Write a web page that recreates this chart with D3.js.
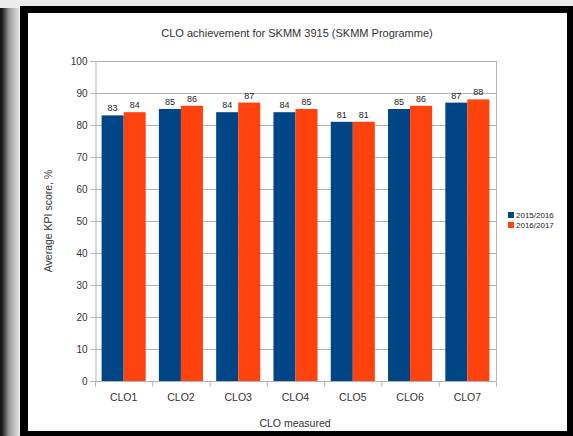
<!DOCTYPE html>
<html>
<head>
<meta charset="utf-8">
<script src="https://cdn.jsdelivr.net/npm/d3@7"></script>
<style>
  html, body { margin: 0; padding: 0; background: #ececec; }
  svg { display: block; }
  text { font-family: "Liberation Sans", "DejaVu Sans", sans-serif; }
</style>
</head>
<body>
<svg id="chart" width="573" height="436"></svg>
<script>
// Chart data
const categories = ["CLO1", "CLO2", "CLO3", "CLO4", "CLO5", "CLO6", "CLO7"];
const seriesNames = ["2015/2016", "2016/2017"];
const values2015 = [83, 85, 84, 84, 81, 85, 87];
const values2016 = [84, 86, 87, 85, 81, 86, 88];
const yTicks = [0, 10, 20, 30, 40, 50, 60, 70, 80, 90, 100];
const colors = ["#004586", "#ff420e"];

const svg = d3.select("#chart");

// Page backdrop: dark shaded strip on the left, black frame around the chart
const defs = svg.append("defs");
const grad = defs.append("linearGradient").attr("id", "edge").attr("x1", 0).attr("x2", 1);
grad.append("stop").attr("offset", "0").attr("stop-color", "#111");
grad.append("stop").attr("offset", "0.12").attr("stop-color", "#222");
grad.append("stop").attr("offset", "0.45").attr("stop-color", "#999");
grad.append("stop").attr("offset", "1").attr("stop-color", "#eaeaea");
svg.append("rect").attr("x", 0).attr("y", 0).attr("width", 573).attr("height", 436).attr("fill", "#ececec");
svg.append("rect").attr("x", 0).attr("y", 8).attr("width", 20).attr("height", 428).attr("fill", "url(#edge)");
svg.append("rect").attr("x", 20).attr("y", 6).attr("width", 553).attr("height", 430).attr("fill", "#000");
svg.append("rect").attr("x", 28).attr("y", 13).attr("width", 539).attr("height", 418).attr("fill", "#fff");

const margin = { left: 95, top: 61, right: 496, bottom: 381 };

const x = d3.scaleBand().domain(categories).range([margin.left, margin.right]).paddingInner(0).paddingOuter(0);
const x1 = d3.scaleBand().domain(seriesNames).range([0, x.bandwidth()]).paddingInner(0).paddingOuter(0.3);
const y = d3.scaleLinear().domain([0, 100]).range([margin.bottom, margin.top]);

// Horizontal gridlines
svg.append("g").selectAll("line").data(yTicks).join("line")
  .attr("x1", margin.left).attr("x2", margin.right)
  .attr("y1", d => y(d) + 0.5).attr("y2", d => y(d) + 0.5)
  .attr("stroke", "#b3b3b3").attr("stroke-width", 1);

// Right border of the plot area
svg.append("line")
  .attr("x1", margin.right + 0.5).attr("x2", margin.right + 0.5)
  .attr("y1", margin.top).attr("y2", margin.bottom)
  .attr("stroke", "#b3b3b3");

// Bars
const rows = categories.map((c, i) => ({ cat: c, vals: [values2015[i], values2016[i]] }));
const groups = svg.append("g").selectAll("g").data(rows).join("g")
  .attr("transform", d => `translate(${x(d.cat)},0)`);
groups.selectAll("rect").data(d => d.vals.map((v, j) => ({ v, s: seriesNames[j], j }))).join("rect")
  .attr("x", d => x1(d.s))
  .attr("width", x1.bandwidth())
  .attr("y", d => y(d.v))
  .attr("height", d => y(0) - y(d.v))
  .attr("fill", d => colors[d.j]);

// Value labels
groups.selectAll("text").data(d => d.vals.map((v, j) => ({ v, s: seriesNames[j] }))).join("text")
  .attr("x", d => x1(d.s) + x1.bandwidth() / 2)
  .attr("y", d => y(d.v) - 4)
  .attr("text-anchor", "middle")
  .attr("font-size", 9)
  .attr("fill", "#222")
  .text(d => d.v);

// Y axis
const yAxis = svg.append("g").attr("transform", `translate(${margin.left + 0.5},0)`)
  .call(d3.axisLeft(y).tickValues(yTicks).tickSize(5).tickPadding(3));
yAxis.select(".domain").attr("stroke", "#b3b3b3");
yAxis.selectAll(".tick line").attr("stroke", "#b3b3b3");
yAxis.selectAll("text").attr("font-size", 10).attr("fill", "#333").attr("font-family", "Liberation Sans, DejaVu Sans, sans-serif");

// X axis: ticks sit at the category boundaries
const xAxisG = svg.append("g").attr("transform", `translate(0,${margin.bottom + 0.5})`);
xAxisG.append("line").attr("x1", margin.left).attr("x2", margin.right).attr("stroke", "#b3b3b3");
const boundaries = categories.map(c => x(c)).concat([margin.right]);
xAxisG.selectAll("line.b").data(boundaries).join("line").attr("class", "b")
  .attr("x1", d => d + 0.5).attr("x2", d => d + 0.5).attr("y1", 0).attr("y2", 5)
  .attr("stroke", "#b3b3b3");
xAxisG.selectAll("text").data(categories).join("text")
  .attr("x", d => x(d) + x.bandwidth() / 2)
  .attr("y", 19)
  .attr("text-anchor", "middle")
  .attr("font-size", 10.5)
  .attr("fill", "#333")
  .text(d => d);

// Titles
svg.append("text").attr("x", 297).attr("y", 37).attr("text-anchor", "middle")
  .attr("font-size", 11).attr("fill", "#333").text("CLO achievement for SKMM 3915 (SKMM Programme)");
svg.append("text").attr("x", 295).attr("y", 427).attr("text-anchor", "middle")
  .attr("font-size", 10.5).attr("fill", "#333").text("CLO measured");
svg.append("text").attr("transform", "translate(52,221) rotate(-90)").attr("text-anchor", "middle")
  .attr("font-size", 10.5).attr("fill", "#333").text("Average KPI score, %");

// Legend
const legend = svg.append("g").attr("transform", "translate(508,212)");
seriesNames.forEach((s, i) => {
  legend.append("rect").attr("x", 0).attr("y", i * 10).attr("width", 6).attr("height", 6).attr("fill", colors[i]);
  legend.append("text").attr("x", 8).attr("y", i * 10 + 6).attr("font-size", 8).attr("fill", "#222").text(s);
});
</script>
</body>
</html>
